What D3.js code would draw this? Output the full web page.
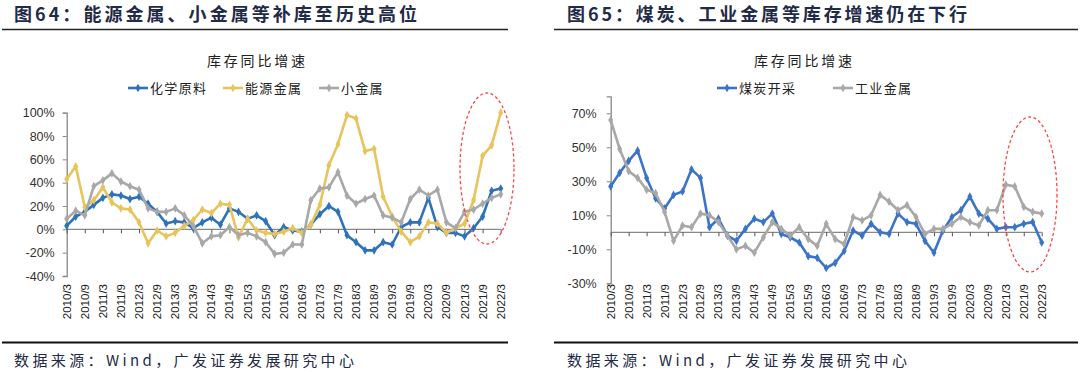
<!DOCTYPE html>
<html>
<head>
<meta charset="utf-8">
<script src="https://cdn.jsdelivr.net/npm/d3@7"></script>
<style>
  html, body { margin: 0; padding: 0; background: #fff; }
  svg { display: block; font-family: "Liberation Sans", Arial, sans-serif; }
  .cjk { font-family: "Noto Sans CJK SC", sans-serif; }
</style>
</head>
<body>
<svg id="chart" width="1080" height="372"></svg>
<script>
// quarterly categories
const quarters = [
  "2010/3","2010/6","2010/9","2010/12","2011/3","2011/6","2011/9","2011/12",
  "2012/3","2012/6","2012/9","2012/12","2013/3","2013/6","2013/9","2013/12",
  "2014/3","2014/6","2014/9","2014/12","2015/3","2015/6","2015/9","2015/12",
  "2016/3","2016/6","2016/9","2016/12","2017/3","2017/6","2017/9","2017/12",
  "2018/3","2018/6","2018/9","2018/12","2019/3","2019/6","2019/9","2019/12",
  "2020/3","2020/6","2020/9","2020/12","2021/3","2021/6","2021/9","2021/12",
  "2022/3"
];

// fig 64 series (%)
const chemical = [3,11,15,21,27,30,29,26,28,22,15,5,7,6,1,6,10,4,18,15,9,12,7,-5,
  2,-1,-2,4,13,20,15,-5,-11,-18,-18,-11,-13,2,6,6,27,2,-3,-3,-6,1,11,33,35];
const energyMetal = [43,54,19,25,36,23,18,17,6,-12,-1,-6,-3,3,8,17,14,22,21,-7,9,-1,-3,-4,
  -2,1,-3,4,21,55,73,98,95,67,69,28,11,-2,-11,-6,6,5,-3,1,5,25,63,72,100];
const minorMetal = [9,16,12,37,42,48,41,37,34,18,15,15,18,12,3,-12,-6,-5,2,-5,-3,-6,-11,-21,
  -20,-13,-13,25,35,36,49,29,22,26,29,12,10,6,26,34,29,34,6,1,15,17,22,27,30];

// fig 65 series (%)
const coalMining = [27,35,42,48,32,20,14,22,24,37,32,3,8,-2,-5,2,8,6,11,-1,-3,-6,-14,-15,
  -21,-18,-11,1,-2,5,0,-1,11,6,5,-5,-12,1,9,13,21,11,8,2,3,3,5,6,-6];
const industrialMetal = [66,49,36,32,25,23,12,-5,4,3,11,10,6,-2,-10,-8,-12,-3,6,2,-2,3,-4,-8,
  5,-4,-7,9,7,10,22,18,13,16,9,-1,2,2,5,9,6,4,13,13,28,27,15,12,11];

const ticksLeft = [-40,-20,0,20,40,60,80,100];
const ticksRight = [-30,-10,10,30,50,70];

const svg = d3.select("#chart");
const navy = "#1f2b47";

function pct(d) { return d + "%"; }

function panel(o) {
  const g = svg.append("g");

  // heading + rules
  g.append("text").attr("class", "cjk")
    .attr("x", o.left).attr("y", 21)
    .attr("font-size", 18).attr("font-weight", 700).attr("fill", navy)
    .attr("textLength", o.headW).attr("lengthAdjust", "spacing")
    .text(o.heading);
  g.append("line").attr("x1", o.ruleX0).attr("x2", o.ruleX1)
    .attr("y1", 29.5).attr("y2", 29.5).attr("stroke", "#222").attr("stroke-width", 1.5);
  g.append("line").attr("x1", o.ruleX0).attr("x2", o.ruleX1)
    .attr("y1", 342.5).attr("y2", 342.5).attr("stroke", "#111").attr("stroke-width", 2);
  g.append("text").attr("class", "cjk")
    .attr("x", o.left).attr("y", 366)
    .attr("font-size", 15).attr("fill", navy)
    .attr("textLength", 340).attr("lengthAdjust", "spacing")
    .text("数据来源：Wind，广发证券发展研究中心");

  // chart title
  g.append("text").attr("class", "cjk")
    .attr("x", o.titleX).attr("y", 66).attr("text-anchor", "middle")
    .attr("font-size", 14).attr("fill", "#222")
    .attr("textLength", 98).attr("lengthAdjust", "spacing")
    .text("库存同比增速");

  const x = d3.scalePoint().domain(quarters).range(o.xRange);
  const y = d3.scaleLinear().domain(o.yDomain).range(o.yRange);

  // y axis
  const ya = g.append("g").attr("transform", `translate(${o.xRange[0]},0)`)
    .call(d3.axisLeft(y).tickValues(o.yTicks).tickFormat(pct).tickSize(4).tickPadding(o.yPad));
  ya.select(".domain").attr("stroke", "#888").attr("stroke-width", 1.3);
  ya.selectAll(".tick line").attr("stroke", "#888");
  ya.selectAll(".tick text").attr("font-size", 12.5).attr("fill", "#333");

  // x axis at zero
  const tickCats = quarters.filter((q, i) => i % 2 === 0);
  const xa = g.append("g").attr("transform", `translate(0,${y(0)})`)
    .call(d3.axisBottom(x).tickValues(tickCats).tickSize(4).tickFormat(""));
  xa.select(".domain").attr("stroke", "#888").attr("stroke-width", 1.3)
    .attr("d", `M${o.xRange[0]},0H${o.xRange[1]}`);
  xa.selectAll(".tick line").attr("stroke", "#555");

  // rotated category labels
  g.append("g").selectAll("text").data(tickCats).enter().append("text")
    .attr("transform", d => `translate(${x(d) + 4},284) rotate(-90)`)
    .attr("text-anchor", "end")
    .attr("font-size", 11.5).attr("fill", "#222")
    .text(d => d);

  // series
  const line = d3.line().x((d, i) => x(quarters[i])).y(d => y(d));
  o.series.forEach(s => {
    g.append("path").datum(s.values)
      .attr("fill", "none").attr("stroke", s.color).attr("stroke-width", 2.6)
      .attr("stroke-linejoin", "round").attr("d", line);
    g.append("g").selectAll("path").data(s.values).enter().append("path")
      .attr("d", d3.symbol(d3.symbolDiamond, 22))
      .attr("transform", (d, i) => `translate(${x(quarters[i])},${y(d)})`)
      .attr("fill", s.color);
  });

  // legend
  o.series.forEach(s => {
    const lg = g.append("g").attr("transform", `translate(${s.lx},88)`);
    lg.append("line").attr("x1", 0).attr("x2", 20).attr("stroke", s.color).attr("stroke-width", 2.6);
    lg.append("path").attr("d", d3.symbol(d3.symbolDiamond, 22))
      .attr("transform", "translate(10,0)").attr("fill", s.color);
    lg.append("text").attr("class", "cjk").attr("x", 22).attr("y", 5)
      .attr("font-size", 13).attr("fill", "#222")
      .attr("textLength", s.name.length * 14.5 - 2).attr("lengthAdjust", "spacing")
      .text(s.name);
  });

  // highlight ellipse around the latest quarters
  g.append("ellipse")
    .attr("cx", o.ell[0]).attr("cy", o.ell[1]).attr("rx", o.ell[2]).attr("ry", o.ell[3])
    .attr("fill", "none").attr("stroke", "#ff4545").attr("stroke-width", 1.3)
    .attr("stroke-dasharray", "3,2.5");
}

panel({
  heading: "图64：能源金属、小金属等补库至历史高位",
  left: 14, headW: 403, ruleX0: 2, ruleX1: 508, titleX: 256,
  xRange: [66.7, 500.7], yDomain: [-40, 100], yRange: [276, 112.7],
  yTicks: ticksLeft, yPad: 8,
  series: [
    { name: "化学原料", values: chemical, color: "#2e72b8", lx: 128 },
    { name: "能源金属", values: energyMetal, color: "#e8c45c", lx: 223 },
    { name: "小金属", values: minorMetal, color: "#a8a8a8", lx: 319 }
  ],
  ell: [487, 168.5, 27, 75.5]
});

panel({
  heading: "图65：煤炭、工业金属等库存增速仍在下行",
  left: 567, headW: 400, ruleX0: 554, ruleX1: 1078, titleX: 803,
  xRange: [610.7, 1041.7], yDomain: [-30, 80], yRange: [283.3, 96.3],
  yTicks: ticksRight, yPad: 10,
  series: [
    { name: "煤炭开采", values: coalMining, color: "#3b73c6", lx: 717 },
    { name: "工业金属", values: industrialMetal, color: "#a8a8a8", lx: 833 }
  ],
  ell: [1030, 194.5, 27, 77.5]
});
</script>
</body>
</html>
